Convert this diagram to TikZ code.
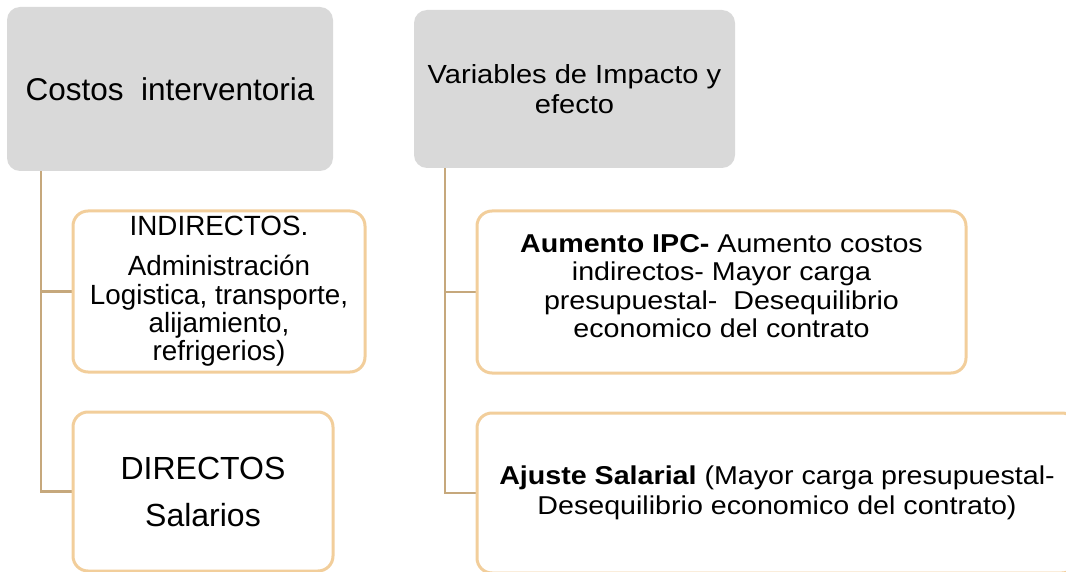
\documentclass[tikz,border=0pt]{standalone}
\usepackage{fontspec}
\setmainfont{Liberation Sans}
\newfontfamily\rfont[FakeStretch=1.11]{Liberation Sans}
\usetikzlibrary{backgrounds}
\definecolor{boxgrey}{RGB}{217,217,217}
\definecolor{boxedge}{RGB}{242,206,155}
\definecolor{connline}{RGB}{198,168,124}
\begin{document}
\begin{tikzpicture}[x=1pt,y=-1pt,
  headbox/.style={rectangle, rounded corners=13pt, fill=boxgrey, inner sep=0pt},
  subbox/.style={rectangle, rounded corners=15pt, draw=boxedge, line width=3pt, fill=white, inner sep=0pt},
  txt/.style={align=center, inner sep=0pt, text=black},
  conn/.style={draw=connline, line width=2.6pt}]
\useasboundingbox (0,0) rectangle (1066,572);
\clip (0,0) rectangle (1066,572);
% boxes
\node[headbox, minimum width=326pt, minimum height=164pt] (costos) at (170,89) {};
\node[headbox, minimum width=321pt, minimum height=158pt] (variables) at (574.5,89) {};
\node[subbox, minimum width=292pt, minimum height=161pt] (indirectos) at (219,291.5) {};
\node[subbox, minimum width=260pt, minimum height=159pt] (directos) at (203,491.5) {};
\node[subbox, minimum width=489pt, minimum height=162pt] (aumento) at (721.5,292) {};
\node[subbox, minimum width=600pt, minimum height=160pt] (ajuste) at (777,493) {};
% texts
\node[txt, font=\fontsize{31.5}{36}\selectfont] (costost) at (costos.center) {Costos\ \ interventoria};
\node[txt, font={\rfont\fontsize{26.2}{30}\selectfont}] (variablest) at (variables.center) {Variables de Impacto y\\efecto};
\node[txt, font=\fontsize{27.8}{28.3}\selectfont] (indirectost) at (indirectos.center) {INDIRECTOS.\\[11.7pt]Administración\\Logistica, transporte,\\alijamiento,\\refrigerios)};
\node[txt, font=\fontsize{32}{37}\selectfont] (directost) at (directos.center) {DIRECTOS\\[10pt]Salarios};
\node[txt, font={\rfont\fontsize{25.8}{28.3}\selectfont}] (aumentot) at ([yshift=6pt]aumento.center) {\textbf{Aumento IPC-} Aumento costos\\indirectos- Mayor carga\\presupuestal-\ \ Desequilibrio\\economico del contrato};
\node[txt, font={\rfont\fontsize{25.8}{30}\selectfont}] (ajustet) at (ajuste.center) {\textbf{Ajuste Salarial} (Mayor carga presupuestal-\\Desequilibrio economico del contrato)};
% connectors
\begin{scope}[on background layer]
\draw[conn] ([xshift=34pt]costos.south west) |- (indirectos.west);
\draw[conn] ([xshift=34pt]costos.south west) |- (directos.west);
\draw[conn] ([xshift=31pt]variables.south west) |- (aumento.west);
\draw[conn] ([xshift=31pt]variables.south west) |- (ajuste.west);
\end{scope}
\end{tikzpicture}
\end{document}
